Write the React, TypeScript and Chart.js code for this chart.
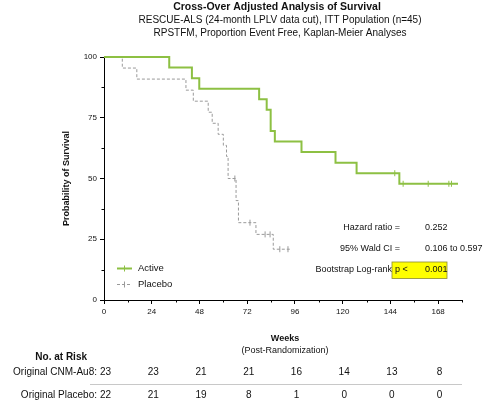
import { useEffect, useRef } from 'react';
import { Chart, registerables } from 'chart.js';

Chart.register(...registerables);

// Kaplan-Meier step points: week of each event and survival (%) after it
const activeWeeks = [0, 32.8, 44.2, 47.9, 78, 81.8, 83.8, 85.9, 99.3, 116.4, 127, 148.5, 178];
const activeSurvival = [100, 95.65, 91.3, 86.96, 82.61, 78.26, 69.57, 65.22, 60.87, 56.52, 52.17, 47.83, 47.83];
const activeCensorWeeks = [146.2, 150.4, 163, 173.4, 174.7];
const activeCensorSurvival = [52.17, 47.83, 47.83, 47.83, 47.83];

const placeboWeeks = [0, 9.2, 16.5, 41.2, 44.9, 52.4, 54.4, 57.4, 60, 61.6, 62.4, 66.4, 67.6, 76.4, 85.1, 94.3];
const placeboSurvival = [100, 95.45, 90.91, 86.36, 81.82, 77.27, 72.73, 68.18, 63.64, 59.09, 50, 40.91, 31.82, 27.0, 20.9, 20.9];
const placeboCensorWeeks = [65.8, 73.4, 81, 83.5, 88.4, 92.5];
const placeboCensorSurvival = [50, 31.82, 27.0, 27.0, 20.9, 20.9];

const xTickWeeks = [0, 24, 48, 72, 96, 120, 144, 168];
const xMinorWeeks = [12, 36, 60, 84, 108, 132, 156, 180];
const yTickValues = [0, 25, 50, 75, 100];
const yMinorValues = [12.5, 37.5, 62.5, 87.5];

const riskWeeks = [0, 24, 48, 72, 96, 120, 144, 168];
const riskActive = [23, 23, 21, 21, 16, 14, 13, 8];
const riskPlacebo = [22, 21, 19, 8, 1, 0, 0, 0];

const titleText = 'Cross-Over Adjusted Analysis of Survival';
const subtitleLines = [
  'RESCUE-ALS (24-month LPLV data cut), ITT Population (n=45)',
  'RPSTFM, Proportion Event Free, Kaplan-Meier Analyses',
];
const hazardRatio = '0.252';
const waldCI = '0.106 to 0.597';
const logRankP = '0.001';

const GREEN = '#8dc043';
const GREY = '#9a9a9a';
const FONT = '"Liberation Sans", Arial, sans-serif';

const pairs = (xs: number[], ys: number[]) => xs.map((x, i) => ({ x, y: ys[i] }));

const decorPlugin = {
  id: 'kmDecor',
  afterDraw(chart: any) {
    const { ctx, chartArea } = chart;
    const xs = chart.scales.x;
    const ys = chart.scales.y;
    ctx.save();
    ctx.fillStyle = '#111';
    ctx.strokeStyle = '#000';
    ctx.lineWidth = 1;

    // minor ticks
    ctx.beginPath();
    xMinorWeeks.forEach((w) => {
      const px = Math.round(xs.getPixelForValue(w)) + 0.5;
      ctx.moveTo(px, chartArea.bottom);
      ctx.lineTo(px, chartArea.bottom + 2.5);
    });
    yMinorValues.forEach((v) => {
      const py = Math.round(ys.getPixelForValue(v)) + 0.5;
      ctx.moveTo(chartArea.left, py);
      ctx.lineTo(chartArea.left - 2.5, py);
    });
    ctx.stroke();

    const cx = (chartArea.left + chartArea.right) / 2;
    ctx.textBaseline = 'middle';

    // titles
    ctx.textAlign = 'center';
    ctx.font = `bold 10.5px ${FONT}`;
    ctx.fillText(titleText, cx - 6, 7);
    ctx.font = `10px ${FONT}`;
    ctx.fillText(subtitleLines[0], cx - 3, 20);
    ctx.fillText(subtitleLines[1], cx - 3, 33);

    // axis titles
    ctx.font = `bold 9px ${FONT}`;
    ctx.save();
    ctx.translate(67, (chartArea.top + chartArea.bottom) / 2);
    ctx.rotate(-Math.PI / 2);
    ctx.fillText('Probability of Survival', 0, 0);
    ctx.restore();
    ctx.fillText('Weeks', cx + 2, 339);
    ctx.font = `9px ${FONT}`;
    ctx.fillText('(Post-Randomization)', cx + 2, 351);

    // legend
    const lx = chartArea.left + 13;
    ctx.lineWidth = 2;
    ctx.strokeStyle = GREEN;
    ctx.beginPath();
    ctx.moveTo(lx, 268.5);
    ctx.lineTo(lx + 15, 268.5);
    ctx.stroke();
    ctx.lineWidth = 1;
    ctx.beginPath();
    ctx.moveTo(lx + 7.5, 265.5);
    ctx.lineTo(lx + 7.5, 271.5);
    ctx.stroke();
    ctx.strokeStyle = GREY;
    ctx.setLineDash([3, 2]);
    ctx.beginPath();
    ctx.moveTo(lx, 284.5);
    ctx.lineTo(lx + 15, 284.5);
    ctx.stroke();
    ctx.setLineDash([]);
    ctx.beginPath();
    ctx.moveTo(lx + 7.5, 281.5);
    ctx.lineTo(lx + 7.5, 287.5);
    ctx.stroke();
    ctx.textAlign = 'left';
    ctx.font = `9.5px ${FONT}`;
    ctx.fillStyle = '#111';
    ctx.fillText('Active', lx + 21, 268.5);
    ctx.fillText('Placebo', lx + 21, 284.5);

    // statistics annotation
    ctx.font = `9px ${FONT}`;
    ctx.textAlign = 'right';
    ctx.fillText('Hazard ratio =', 400, 228);
    ctx.fillText('95% Wald CI =', 400, 249);
    ctx.fillText('Bootstrap Log-rank', 392, 270);
    ctx.fillStyle = '#ffff00';
    ctx.fillRect(392, 262, 55, 16.5);
    ctx.strokeStyle = '#8a8a30';
    ctx.lineWidth = 0.8;
    ctx.strokeRect(392, 262, 55, 16.5);
    ctx.fillStyle = '#111';
    ctx.textAlign = 'left';
    ctx.fillText(hazardRatio, 425, 228);
    ctx.fillText(waldCI, 425, 249);
    ctx.fillText('p <', 395, 270);
    ctx.fillText(logRankP, 425, 270);

    // number at risk table
    ctx.font = `bold 10px ${FONT}`;
    ctx.textAlign = 'right';
    ctx.fillText('No. at Risk', 87, 357);
    ctx.font = `10px ${FONT}`;
    ctx.fillText('Original CNM-Au8:', 97, 372);
    ctx.fillText('Original Placebo:', 97, 395);
    ctx.textAlign = 'center';
    riskWeeks.forEach((w, i) => {
      const px = xs.getPixelForValue(w) + 1.5;
      ctx.fillText(String(riskActive[i]), px, 372);
      ctx.fillText(String(riskPlacebo[i]), px, 395);
    });
    ctx.strokeStyle = '#c8c8c8';
    ctx.lineWidth = 1;
    ctx.beginPath();
    ctx.moveTo(90, 384.5);
    ctx.lineTo(chartArea.right, 384.5);
    ctx.stroke();

    ctx.restore();
  },
};

export default function App() {
  const canvasRef = useRef<HTMLCanvasElement | null>(null);

  useEffect(() => {
    document.body.style.margin = '0';
    const canvas = canvasRef.current;
    if (!canvas) return;

    const chart = new Chart(canvas, {
      type: 'line',
      data: {
        datasets: [
          {
            label: 'Active',
            data: pairs(activeWeeks, activeSurvival),
            borderColor: GREEN,
            borderWidth: 2,
            stepped: 'before',
            pointRadius: 0,
            fill: false,
            clip: false,
          },
          {
            label: 'Placebo',
            data: pairs(placeboWeeks, placeboSurvival),
            borderColor: GREY,
            borderWidth: 1,
            borderDash: [3, 2],
            stepped: 'before',
            pointRadius: 0,
            fill: false,
            clip: false,
          },
          {
            label: 'Active censored',
            data: pairs(activeCensorWeeks, activeCensorSurvival),
            showLine: false,
            pointStyle: 'line',
            rotation: 90,
            pointRadius: 3,
            pointBorderWidth: 1,
            pointBorderColor: GREEN,
            borderColor: GREEN,
            clip: false,
          },
          {
            label: 'Placebo censored',
            data: pairs(placeboCensorWeeks, placeboCensorSurvival),
            showLine: false,
            pointStyle: 'line',
            rotation: 90,
            pointRadius: 3,
            pointBorderWidth: 1,
            pointBorderColor: GREY,
            borderColor: GREY,
            clip: false,
          },
        ],
      },
      options: {
        animation: false,
        responsive: false,
        events: [],
        layout: { padding: { top: 57, right: 23, bottom: 0, left: 0 } },
        plugins: {
          legend: { display: false },
          tooltip: { enabled: false },
          title: { display: false },
        },
        scales: {
          x: {
            type: 'linear',
            min: 0,
            max: 180,
            afterBuildTicks: (s: any) => {
              s.ticks = xTickWeeks.map((v) => ({ value: v }));
            },
            afterFit: (s: any) => {
              s.height = 107;
            },
            grid: { drawOnChartArea: false, drawTicks: true, tickLength: 4, color: '#000', lineWidth: 1 },
            border: { display: true, color: '#000', width: 1 },
            ticks: {
              font: { family: FONT, size: 8 },
              color: '#111',
              padding: 3,
              maxRotation: 0,
              autoSkip: false,
            },
          },
          y: {
            type: 'linear',
            min: 0,
            max: 100,
            afterBuildTicks: (s: any) => {
              s.ticks = yTickValues.map((v) => ({ value: v }));
            },
            afterFit: (s: any) => {
              s.width = 104;
            },
            grid: { drawOnChartArea: false, drawTicks: true, tickLength: 4, color: '#000', lineWidth: 1 },
            border: { display: true, color: '#000', width: 1 },
            ticks: {
              font: { family: FONT, size: 8 },
              color: '#111',
              padding: 3,
              autoSkip: false,
            },
          },
        },
      },
      plugins: [decorPlugin],
    } as any);

    return () => chart.destroy();
  }, []);

  return (
    <div style={{ position: 'absolute', left: 0, top: 0, width: 485, height: 407, background: '#fff' }}>
      <canvas ref={canvasRef} width={485} height={407} style={{ display: 'block' }} />
    </div>
  );
}
